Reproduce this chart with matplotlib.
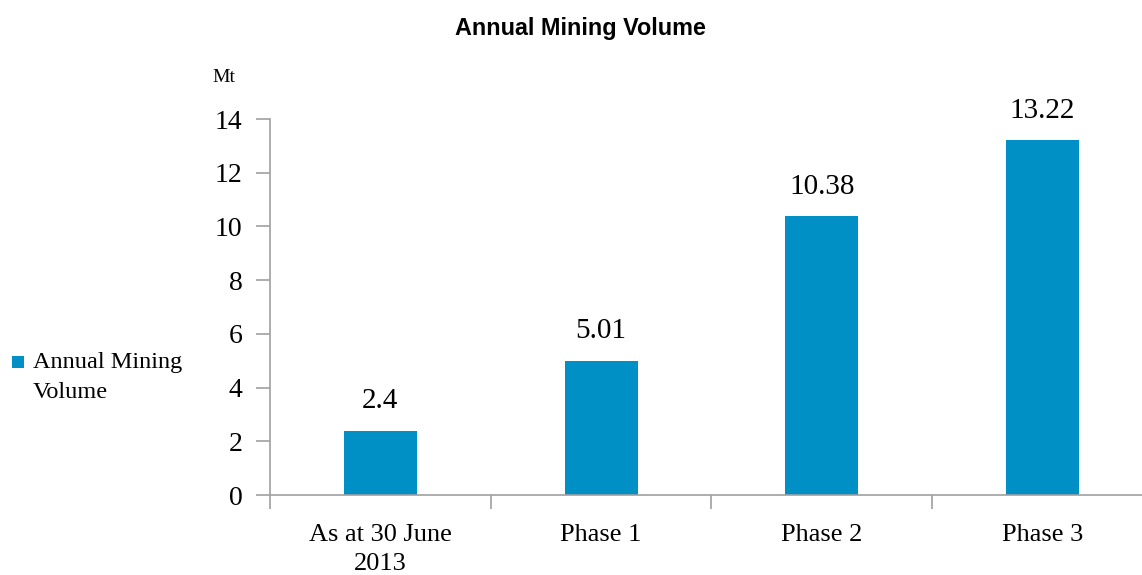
import matplotlib.pyplot as plt
import numpy as np
from matplotlib.patches import Rectangle

categories = ["As at 30 June\n2013", "Phase 1", "Phase 2", "Phase 3"]
volumes = [2.4, 5.01, 10.38, 13.22]
value_labels = ["2.4", "5.01", "10.38", "13.22"]
y_ticks = [0, 2, 4, 6, 8, 10, 12, 14]
series_name = "Annual Mining\nVolume"

serif = "Liberation Serif"
bar_color = "#0090c6"
axis_color = "#a0a0a0"

fig = plt.figure(figsize=(11.42, 5.75), dpi=100)
ax = fig.add_axes([0.2365, 0.139, 0.773, 0.654])

x = np.arange(len(categories))
bars = ax.bar(x, volumes, width=0.33, color=bar_color)

# value labels above bars
for xi, v, lab in zip(x, volumes, value_labels):
    ax.text(xi, v + 0.6, lab, ha="center", va="bottom", fontsize=21, family=serif)

ax.set_xlim(-0.5, 3.5)
ax.set_ylim(0, 14)
ax.set_yticks(y_ticks)
ax.set_yticklabels([str(t) for t in y_ticks], fontsize=20, family=serif)

# category ticks sit between the bars
ax.set_xticks(np.arange(-0.5, 3.6, 1.0))
ax.set_xticklabels([])
ax.set_xticks(x, minor=True)
ax.set_xticklabels(categories, minor=True, fontsize=19, family=serif, linespacing=1.4)
ax.tick_params(axis="x", which="minor", length=0, pad=21)
ax.tick_params(axis="x", which="major", length=10, color=axis_color, width=1.2)
ax.tick_params(axis="y", length=10, color=axis_color, width=1.2, pad=10)

for s in ["top", "right"]:
    ax.spines[s].set_visible(False)
for s in ["left", "bottom"]:
    ax.spines[s].set_color(axis_color)
    ax.spines[s].set_linewidth(1.2)

fig.text(0.508, 0.951, "Annual Mining Volume", ha="center", va="center",
         fontsize=16.8, fontweight="bold", family="Liberation Sans")
fig.text(0.196, 0.865, "Mt", ha="center", va="center", fontsize=14, family=serif)

# legend: square swatch next to the first line of the label
fig.patches.append(Rectangle((0.0105, 0.36), 0.0105, 0.021, transform=fig.transFigure,
                             facecolor=bar_color, edgecolor="none"))
fig.text(0.029, 0.388, series_name, ha="left", va="top", fontsize=17.5,
         family=serif, linespacing=1.55, transform=fig.transFigure)

fig.savefig("out.png", dpi=100)
